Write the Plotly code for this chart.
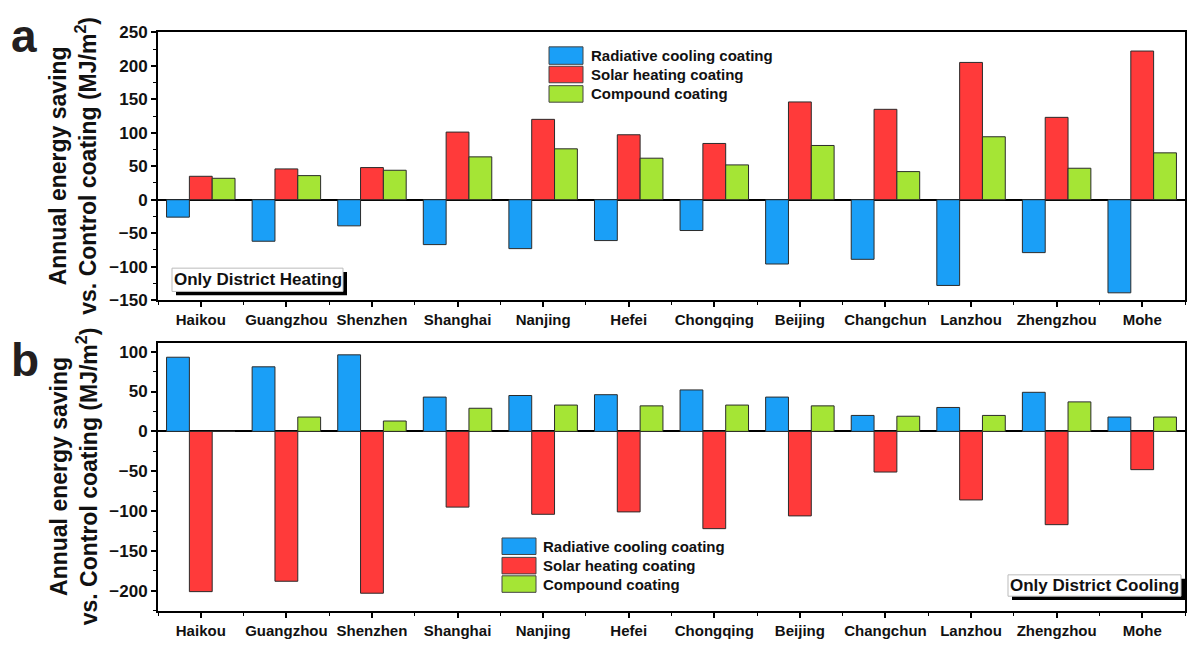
import plotly.graph_objects as go

# ---- data -------------------------------------------------------------
cities = ["Haikou", "Guangzhou", "Shenzhen", "Shanghai", "Nanjing", "Hefei",
          "Chongqing", "Beijing", "Changchun", "Lanzhou", "Zhengzhou", "Mohe"]
series_names = ["Radiative cooling coating", "Solar heating coating", "Compound coating"]

# (a) only district heating, MJ/m2
heat_radiative = [-26, -62, -39, -67, -73, -61, -46, -96, -89, -128, -79, -139]
heat_solar = [35, 46, 48, 101, 120, 97, 84, 146, 135, 205, 123, 222]
heat_compound = [32, 36, 44, 64, 76, 62, 52, 81, 42, 94, 47, 70]

# (b) only district cooling, MJ/m2
cool_radiative = [93, 81, 96, 43, 45, 46, 52, 43, 20, 30, 49, 18]
cool_solar = [-201, -188, -203, -95, -104, -101, -122, -106, -51, -86, -117, -48]
cool_compound = [0, 18, 13, 29, 33, 32, 33, 32, 19, 20, 37, 18]

y_ticks_a = [-150, -100, -50, 0, 50, 100, 150, 200, 250]
y_ticks_b = [-200, -150, -100, -50, 0, 50, 100]

# ---- styling ----------------------------------------------------------
W, H = 1187, 646
FONT = "Arial, 'Liberation Sans', sans-serif"
colors = ["#1A9FF7", "#FF3A3A", "#A5E535"]
edge = "#2b2b2b"


def px(x):
    return x / W


def py(y):
    return 1 - y / H


x_pos = list(range(len(cities)))
fig = go.Figure()

panels = [
    ("x", "y", [heat_radiative, heat_solar, heat_compound]),
    ("x2", "y2", [cool_radiative, cool_solar, cool_compound]),
]
for xa, ya, values in panels:
    for name, vals, col in zip(series_names, values, colors):
        fig.add_trace(go.Bar(
            x=x_pos, y=vals, name=name, xaxis=xa, yaxis=ya,
            marker=dict(color=col, line=dict(color=edge, width=1)),
            showlegend=False,
        ))

x_dom = [px(158), px(1185)]
common_x = dict(
    domain=x_dom, range=[-0.5, len(cities) - 0.5],
    tickmode="array", tickvals=x_pos, ticktext=cities,
    tickfont=dict(family=FONT, size=15, color="#111", weight="bold"),
    ticks="outside", ticklen=5, tickwidth=1.5, tickcolor="black",
    minor=dict(ticks="outside", ticklen=3, tickwidth=1.2, tickcolor="black",
               tick0=0.5, dtick=1),
    showline=True, linecolor="black", linewidth=2, mirror=True,
    showgrid=False, zeroline=False, fixedrange=True,
)
common_y = dict(
    tickfont=dict(family=FONT, size=17, color="#111", weight="bold"),
    ticks="outside", ticklen=5, tickwidth=1.5, tickcolor="black",
    minor=dict(ticks="outside", ticklen=3, tickwidth=1.2, tickcolor="black", dtick=25),
    showline=True, linecolor="black", linewidth=2, mirror=True,
    showgrid=False, zeroline=True, zerolinecolor="black", zerolinewidth=1.8,
    tickmode="array",
)

fig.update_layout(
    width=W, height=H,
    margin=dict(l=0, r=0, t=0, b=0),
    paper_bgcolor="white", plot_bgcolor="white",
    barmode="group", bargap=0.2, bargroupgap=0,
    xaxis=dict(common_x, anchor="y"),
    yaxis=dict(common_y, domain=[py(300), py(24)], range=[-150, 250],
               tickvals=y_ticks_a, anchor="x"),
    xaxis2=dict(common_x, anchor="y2"),
    yaxis2=dict(common_y, domain=[py(620), py(344)], range=[-225, 111],
                tickvals=y_ticks_b, anchor="x2"),
)

shapes = []
annotations = []

# y-axis titles
for yc in (162, 482):
    annotations.append(dict(
        x=px(73.5), y=py(yc), xref="paper", yref="paper",
        text="Annual energy saving<br>vs. Control coating (MJ/m<sup>2</sup>)",
        textangle=-90, showarrow=False, xanchor="center", yanchor="middle",
        font=dict(family=FONT, size=23, color="#111", weight="bold"),
    ))

# panel letters
for letter, yc in (("a", 28), ("b", 362)):
    annotations.append(dict(
        x=px(9), y=py(yc), xref="paper", yref="paper", text=letter,
        showarrow=False, xanchor="left", yanchor="middle",
        font=dict(family=FONT, size=46, color="#231F20", weight="bold"),
    ))

# legends (one per panel)
for sx0, sx1, tx, rows in ((549, 583, 589, [(39, 57), (59, 76), (79, 96)]),
                           (502, 536, 541, [(545, 562), (565, 582), (584, 601)])):
    for (r0, r1), name, col in zip(rows, series_names, colors):
        shapes.append(dict(type="rect", xref="paper", yref="paper",
                           x0=px(sx0), x1=px(sx1), y0=py(r1), y1=py(r0),
                           fillcolor=col, line=dict(color="#444", width=1)))
        annotations.append(dict(
            x=px(tx), y=py((r0 + r1) / 2), xref="paper", yref="paper",
            text=name, showarrow=False, xanchor="left", yanchor="middle",
            font=dict(family=FONT, size=15, color="#111", weight="bold"),
        ))

# condition labels with drop shadow
for label, (bx0, bx1, by0, by1) in (("Only District Heating", (172, 343, 267, 291)),
                                     ("Only District Cooling", (1008, 1181, 583, 605))):
    shapes.append(dict(type="rect", xref="paper", yref="paper",
                       x0=px(bx0 + 4), x1=px(bx1 + 4), y0=py(by1 + 4), y1=py(by0 + 4),
                       fillcolor="black", line=dict(width=0)))
    shapes.append(dict(type="rect", xref="paper", yref="paper",
                       x0=px(bx0), x1=px(bx1), y0=py(by1), y1=py(by0),
                       fillcolor="white", line=dict(color="#bbbbbb", width=1)))
    annotations.append(dict(
        x=px((bx0 + bx1) / 2), y=py((by0 + by1) / 2), xref="paper", yref="paper",
        text=label, showarrow=False, xanchor="center", yanchor="middle",
        font=dict(family=FONT, size=17, color="#111", weight="bold"),
    ))

fig.update_layout(shapes=shapes, annotations=annotations)
fig.write_html("out.html")
